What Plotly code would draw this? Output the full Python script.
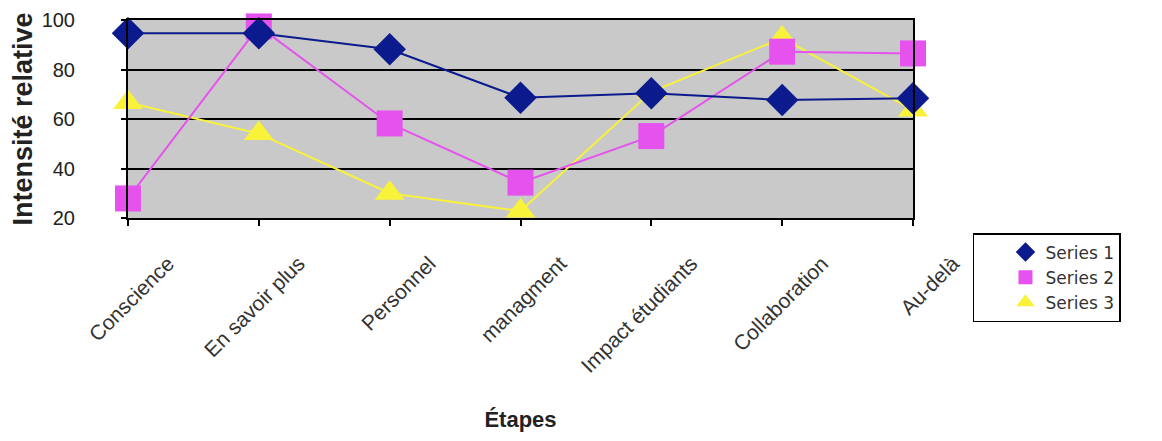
import plotly.graph_objects as go

categories = ["Conscience", "En savoir plus", "Personnel", "managment",
              "Impact étudiants", "Collaboration", "Au-delà"]
series_names = ["Series 1", "Series 2", "Series 3"]
series1 = [94.6, 94.6, 88.2, 68.6, 70.4, 67.7, 68.4]
series2 = [27.9, 97.4, 58.2, 34.3, 53.1, 87.2, 86.5]
series3 = [66.7, 54.1, 30.0, 22.8, 71.0, 92.7, 63.6]
y_ticks = [20, 40, 60, 80, 100]

NAVY = "#0B1A8C"
MAGENTA = "#E652EE"
YELLOW = "#F8F23A"

styles = {
    "Series 1": (series1, NAVY, "diamond", 25, 15),
    "Series 2": (series2, MAGENTA, "square", 26, 14),
    "Series 3": (series3, YELLOW, "triangle-up", 26, 16),
}

fig = go.Figure()
# draw order: series 3 at the bottom, series 1 on top
for name in reversed(series_names):
    vals, col, sym, size, _ = styles[name]
    fig.add_trace(go.Scatter(
        x=categories, y=vals, name=name, mode="lines+markers",
        line=dict(color=col, width=2),
        marker=dict(symbol=sym, size=size, color=col, line=dict(width=0)),
        cliponaxis=False, showlegend=False,
    ))
# legend entries: marker only, as in the original legend
for name in series_names:
    vals, col, sym, _, lsize = styles[name]
    fig.add_trace(go.Scatter(
        x=[None], y=[None], name=name, mode="markers",
        marker=dict(symbol=sym, size=lsize, color=col, line=dict(width=0)),
        showlegend=True,
    ))

fig.update_layout(
    width=1154, height=433,
    margin=dict(l=120, r=249, t=12, b=223, autoexpand=False),
    paper_bgcolor="white",
    plot_bgcolor="#C9C9C9",
    font=dict(family="Liberation Sans, Arial, sans-serif", color="#222222"),
    showlegend=True,
    legend=dict(
        x=1.0764, y=-0.0758, xanchor="left", yanchor="top",
        bordercolor="black", borderwidth=1.5, bgcolor="white",
        font=dict(size=17, color="#333333", family="DejaVu Sans, Liberation Sans, sans-serif"),
        indentation=31, tracegroupgap=0,
    ),
    xaxis=dict(
        type="category", range=[0, 6], automargin=False,
        showgrid=False, showline=True, linecolor="black", linewidth=2,
        ticks="outside", ticklen=6, tickcolor="black", tickwidth=1.5,
        tickangle=-45, tickfont=dict(size=21, color="#333333"),
        ticklabelshift=40, ticklabelstandoff=17,
        title=dict(text="<b>Étapes</b>", font=dict(size=22, color="#222222"), standoff=36),
        mirror=True,
    ),
    yaxis=dict(
        range=[20, 100], tickvals=y_ticks, automargin=False,
        showgrid=True, gridcolor="black", gridwidth=1.5,
        showline=True, linecolor="black", linewidth=2, mirror=True,
        ticks="outside", ticklen=5, tickcolor="black", tickwidth=1.5,
        tickfont=dict(size=20, color="#222222"),
        ticklabelstandoff=42,
        title=dict(text="<b>Intensité relative</b>", font=dict(size=27, color="#222222"), standoff=4),
        zeroline=False,
    ),
)

fig.write_html("out.html")
